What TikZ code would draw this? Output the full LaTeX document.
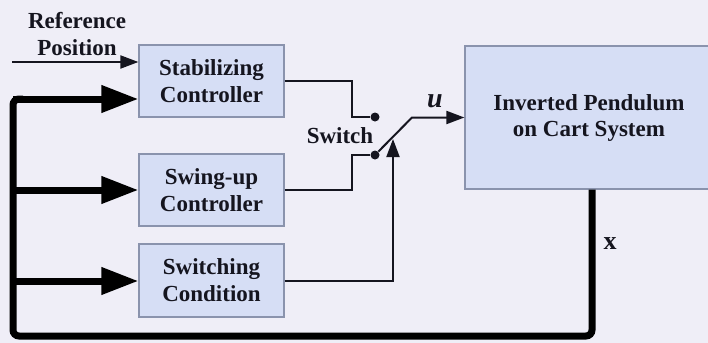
\documentclass[tikz,border=0pt]{standalone}
\usepackage{fontspec}
\setmainfont{Liberation Serif}
\newfontfamily\tnr{Liberation Serif}
\usetikzlibrary{arrows.meta,calc}
\definecolor{bgc}{HTML}{EFEEF7}
\definecolor{boxfill}{HTML}{D6DEF5}
\definecolor{boxdraw}{HTML}{8A93AD}
\definecolor{ink}{HTML}{15151F}
\tikzset{
  blk/.style={draw=boxdraw, fill=boxfill, line width=0.6pt, align=center, inner sep=0pt,
    font=\tnr\fontsize{11.5}{13.5}\selectfont\bfseries, text=ink},
  lbl/.style={align=center, inner sep=0pt, font=\tnr\fontsize{11.5}{13.5}\selectfont\bfseries, text=ink},
  thin/.style={line width=1pt, draw=ink},
  thinarrow/.style={thin, -{Triangle[length=9pt, width=6.5pt]}},
  fb/.style={line width=3.5pt, draw=black, rounded corners=3pt},
  fbarrow/.style={line width=3.5pt, draw=black, -{Triangle[length=18.5pt, width=13pt]}},
  term/.style={circle, fill=ink, inner sep=0pt, minimum size=4.5pt}
}
\begin{document}
\begin{tikzpicture}[x=0.5pt, y=-0.5pt]
\fill[bgc] (0,0) rectangle (708,343);
\useasboundingbox (0,0) rectangle (708,343);
\clip (0,0) rectangle (708,343);
% blocks
\node[blk, minimum width=72.5pt, minimum height=36pt] (stab) at (211.5,81) {Stabilizing\\Controller};
\node[blk, minimum width=72.5pt, minimum height=36pt] (swing) at (211.5,190) {Swing-up\\Controller};
\node[blk, minimum width=72.5pt, minimum height=36.5pt] (cond) at (211.5,280.5) {Switching\\Condition};
\node[blk, minimum width=127pt, minimum height=71.5pt] (pend) at (592,117.5) {\hspace*{-3pt}Inverted Pendulum\\[-0.5pt]\hspace*{-3pt}on Cart System};
% labels
\node[lbl] (reflbl) at (77,34) {Reference\\Position};
\node[lbl] (swlbl) at (340,136) {Switch};
\node[lbl, font=\tnr\fontsize{14}{15}\selectfont\bfseries\itshape] (ulbl) at (435,101) {u};
\node[lbl, font=\tnr\fontsize{13}{15}\selectfont\bfseries] (xlbl) at (610,244) {x};
% coordinates
\coordinate (ref) at (12,62);
\coordinate (s1) at (352,81);
\coordinate (s2) at (352,117);
\coordinate (w1) at (352,190);
\coordinate (w2) at (352,155);
\node[term] (t1) at (375,117) {};
\node[term] (t2) at (375,155) {};
\coordinate (bend) at (412,117.5);
\coordinate (c1) at (393,281);
\coordinate (c2) at (393,139);
\coordinate (f1) at (592,336);
\coordinate (f2) at (13,336);
\coordinate (f3) at (13,99);
\coordinate (f4) at (23,99);
% input
\draw[thinarrow] (ref) -- (ref -| stab.west);
% controller outputs
\draw[thin] (stab.east |- s1) -- (s1) -- (s2) -- (t1);
\draw[thin] (swing.east) -- (w1) -- (w2) -- (t2);
\draw[thinarrow] (t2) -- (bend) -- (pend.west);
\draw[thinarrow] (cond.east |- c1) -- (c1) -- (c2);
% feedback
\draw[fb] (pend.south) -- (f1) -- (f2) -- (f3) -- (f4);
\draw[fbarrow] (f3) -- (f3 -| stab.west);
\draw[fbarrow] (13,190) -- (swing.west);
\draw[fbarrow] (13,281) -- (cond.west |- 0,281);
\end{tikzpicture}
\end{document}
